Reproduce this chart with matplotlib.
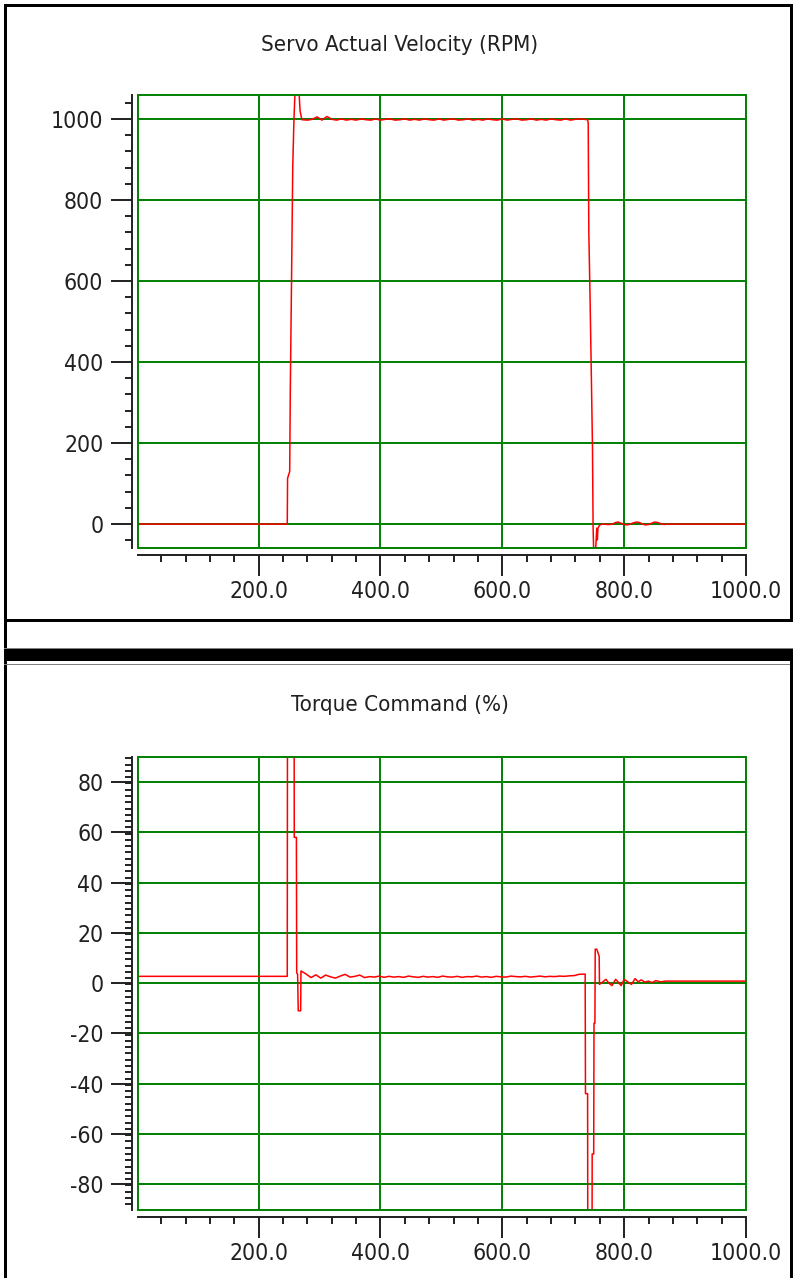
import matplotlib
matplotlib.use('Agg')
import matplotlib.pyplot as plt
from matplotlib.patches import Rectangle
import numpy as np

plt.rcParams['font.family'] = ['DejaVu Sans']
plt.rcParams['font.stretch'] = 'condensed'

# --- data ---
# servo velocity (RPM)
vel_t = [2, 247, 247.5, 251, 252, 254, 256, 258, 260, 266, 268, 271]
vel_rpm = [0, 0, 113, 130, 330, 600, 880, 1000, 1075, 1075, 1020, 998]
vel_plateau = [998, 997, 999, 1005, 997, 1006, 999, 997, 1000, 997,
               999, 997, 1000, 998, 997, 1000, 997, 999, 1000, 997,
               998, 1000, 997, 999, 997, 1000, 998, 997, 1000, 997,
               999, 1000, 997, 998, 1000, 997, 999, 997, 1000, 998,
               997, 1000, 997, 999, 1000, 997, 998, 1000, 997, 999,
               997, 1000, 998, 997, 1000, 997, 999, 1000]
vel_stop_t = [740, 741, 742, 744, 746, 748, 749, 750, 753, 755, 756, 757, 760,
              764, 775, 781, 786, 790, 795, 800, 805, 810, 815, 820, 825, 830,
              835, 840, 845, 850, 855, 860, 866, 870, 1000]
vel_stop_rpm = [998, 990, 720, 560, 380, 190, -5, -70, -70, -10, -39, -10, -2,
                0, -1, 0, 4, 5, 2, -1, -2, 0, 3, 5, 4, 0,
                -2, -1, 2, 5, 4, 1, -1, 0, 0]

# torque command (%)
trq_t = [2, 247, 247.5, 258, 258.5, 262, 262.5, 264, 265, 269, 269.5]
trq_pct = [2.7, 2.7, 150, 150, 58, 58, 4.1, 3.5, -11, -11, 4.8]
trq_plateau = [4.8, 3.6, 2.2, 3.3, 2.0, 3.2, 2.5, 2.0, 2.8, 3.5,
               2.4, 2.7, 3.2, 2.2, 2.6, 2.4, 2.8, 2.3, 2.7, 2.4,
               2.6, 2.3, 2.8, 2.5, 2.3, 2.7, 2.4, 2.6, 2.3, 2.8,
               2.5, 2.4, 2.7, 2.3, 2.6, 2.5, 2.8, 2.4, 2.6, 2.3,
               2.7, 2.5, 2.4, 2.8, 2.6, 2.5, 2.7, 2.4, 2.6, 2.8,
               2.5, 2.7, 2.6, 2.8, 2.7, 2.9, 3.0, 3.5]
trq_stop_t = [736, 736.5, 740, 740.5, 747, 747.5, 750, 750.5, 752, 752.5, 755,
              759, 759.5, 765, 770, 775, 780, 786, 790, 795, 800, 806, 812,
              818, 823, 828, 834, 840, 846, 852, 860, 868, 1000]
trq_stop_pct = [3.6, -44, -44, -150, -150, -68, -68, -16, -16, 13.5, 13.5,
                10.7, -0.5, 0.5, 1.5, 0, -1, 1.5, 0.5, -1, 1.5, 0.5, -0.5,
                1.8, 0.5, 1.3, 0.4, 0.8, 0.2, 1.0, 0.5, 0.8, 0.8]

x_ticks = [200, 400, 600, 800, 1000]
x_labels = ['200.0', '400.0', '600.0', '800.0', '1000.0']

W, H = 793, 1278
fig = plt.figure(figsize=(W / 100, H / 100), dpi=100)


def box(x0, y0, x1, y1, color='black'):
    # rectangle in picture pixels (origin top-left)
    fig.add_artist(Rectangle((x0 / W, 1 - y1 / H), (x1 - x0) / W, (y1 - y0) / H,
                             transform=fig.transFigure, facecolor=color,
                             edgecolor='none'))


# window frames
box(4, 4, 7, 1278)
box(4, 4, 793, 7)
box(790, 4, 793, 621)
box(4, 619, 793, 621.5)
box(4, 647.5, 793, 648.5, '#808080')
box(4, 649, 793, 661)
box(4, 663.5, 793, 664.5, '#808080')
box(790, 661, 793, 1278)

green = '#008000'


def setup(ax, yticks, ylim, yminor):
    ax.set_xlim(2, 1000)
    ax.set_ylim(*ylim)
    ax.set_xticks(x_ticks)
    ax.set_xticklabels(x_labels)
    ax.set_xticks(np.arange(40, 1000, 40), minor=True)
    ax.set_yticks(yticks)
    ax.set_yticklabels([str(v) for v in yticks])
    ax.set_yticks(yminor, minor=True)
    ax.grid(which='major', color=green, lw=1.4, zorder=1)
    ax.set_axisbelow(True)
    for s in ['top', 'right']:
        ax.spines[s].set_visible(False)
    ax.spines['left'].set_position(('outward', 4))
    ax.spines['bottom'].set_position(('outward', 5))
    for s in ['left', 'bottom']:
        ax.spines[s].set_linewidth(1.4)
        ax.spines[s].set_color('#202020')
    ax.tick_params(which='major', length=15, width=1.4, color='#202020',
                   labelsize=16.5, labelcolor='#202020')
    ax.tick_params(which='minor', length=5, width=1.4, color='#202020')
    ax.tick_params(axis='y', which='major', pad=6)
    ax.tick_params(axis='x', which='major', pad=3)
    ax.add_patch(Rectangle((0, 0), 1, 1, transform=ax.transAxes, fill=False,
                           edgecolor=green, lw=1.4, clip_on=False, zorder=3))


ax1 = fig.add_axes([138 / W, 1 - 548 / H, 608 / W, 453 / H])
setup(ax1, [0, 200, 400, 600, 800, 1000], (-59, 1059), np.arange(-40, 1059, 40))
t1 = vel_t + list(range(272, 272 + 8 * len(vel_plateau), 8)) + vel_stop_t
y1 = vel_rpm + vel_plateau + vel_stop_rpm
ax1.plot(t1, y1, color='#ff0000', lw=1.1, zorder=2)

ax2 = fig.add_axes([138 / W, 1 - 1210 / H, 608 / W, 453 / H])
setup(ax2, list(range(-80, 81, 20)), (-90.3, 90), np.arange(-88, 90, 2.5))
t2 = trq_t + list(range(270, 270 + 8 * len(trq_plateau), 8)) + trq_stop_t
y2 = trq_pct + trq_plateau + trq_stop_pct
ax2.plot(t2, y2, color='#ff0000', lw=1.1, zorder=2)

fig.text(400 / W, 1 - 45 / H, 'Servo Actual Velocity (RPM)', ha='center',
         va='center', fontsize=16, color='#202020')
fig.text(400 / W, 1 - 705 / H, 'Torque Command (%)', ha='center',
         va='center', fontsize=16, color='#202020')

fig.savefig('out.png', dpi=100)
